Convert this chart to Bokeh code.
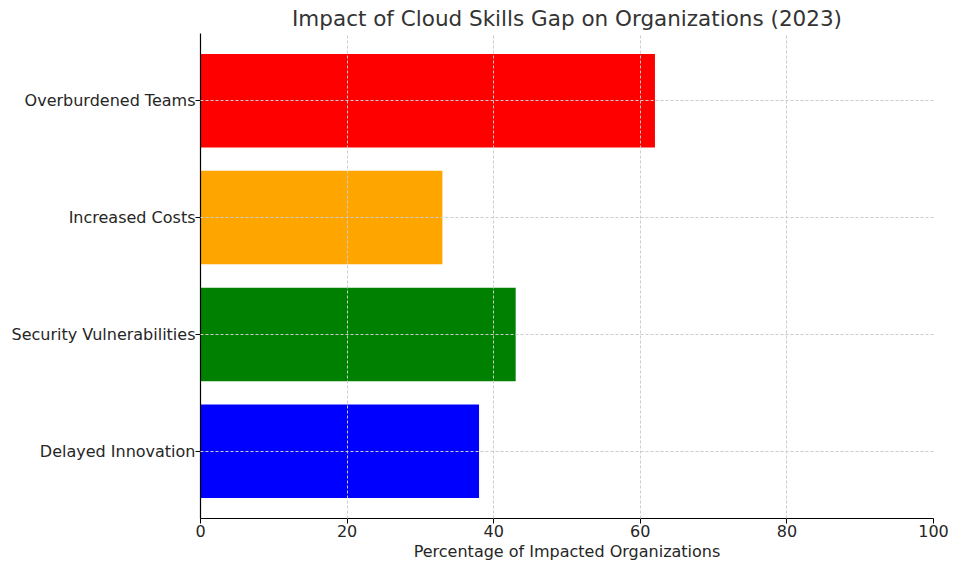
from bokeh.plotting import figure
from bokeh.models import Range1d, FixedTicker
from bokeh.embed import file_html
from bokeh.resources import INLINE

categories = ["Delayed Innovation", "Security Vulnerabilities", "Increased Costs", "Overburdened Teams"]
values = [38, 43, 33, 62]
colors = ["blue", "green", "orange", "red"]
x_ticks = [0, 20, 40, 60, 80, 100]

ypos = list(range(len(categories)))

p = figure(width=958, height=571, output_backend="svg", toolbar_location=None,
           x_range=Range1d(0, 100), y_range=Range1d(-0.575, len(categories) - 1 + 0.575),
           title="Impact of Cloud Skills Gap on Organizations (2023)",
           min_border_left=200, min_border_right=25, min_border_top=6, min_border_bottom=53)

p.hbar(y=ypos, right=values, left=0, height=0.8, color=colors, line_color=None)

font = "DejaVu Sans"
p.title.align = "center"
p.title.text_font = font
p.title.text_font_size = "21.5px"
p.title.text_font_style = "normal"
p.title.text_color = "#333333"
p.title.offset = 0
p.title.standoff = 6

p.xaxis.ticker = FixedTicker(ticks=x_ticks)
p.yaxis.ticker = FixedTicker(ticks=ypos)
p.yaxis.major_label_overrides = {i: c for i, c in enumerate(categories)}
p.xaxis.axis_label = "Percentage of Impacted Organizations"

for ax in (p.xaxis, p.yaxis):
    ax.axis_label_text_font = font
    ax.axis_label_text_font_size = "16px"
    ax.axis_label_text_font_style = "normal"
    ax.axis_label_text_color = "#262626"
    ax.major_label_text_font = font
    ax.major_label_text_font_size = "16px"
    ax.major_label_text_color = "#262626"
    ax.minor_tick_line_color = None
    ax.major_tick_out = 5
    ax.major_tick_in = 0
    ax.axis_line_color = "black"
    ax.axis_line_width = 1.2
    ax.major_tick_line_color = "black"

p.xaxis.axis_label_standoff = 2
p.xaxis.major_label_standoff = 1
p.yaxis.major_label_standoff = 0

p.outline_line_color = None
for g in (p.xgrid, p.ygrid):
    g.grid_line_color = "#cccccc"
    g.grid_line_dash = "3 2"
    g.grid_line_width = 1
    g.level = "annotation"
p.xgrid.ticker = FixedTicker(ticks=x_ticks)
p.ygrid.ticker = FixedTicker(ticks=ypos)

open("out.html", "w").write(file_html(p, INLINE))
